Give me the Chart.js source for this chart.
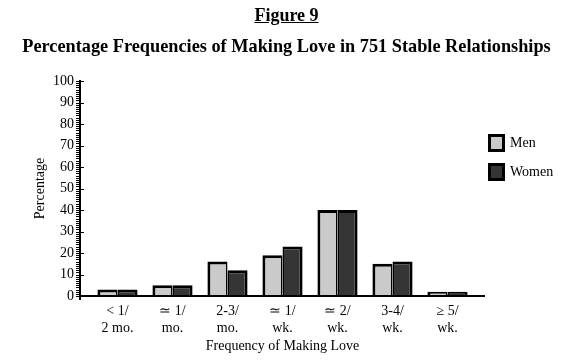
<!DOCTYPE html>
<html lang="en">
<head>
    <meta charset="UTF-8">
    <title>Figure 9</title>
    <style>
        body { margin: 0; background: #fff; font-family: "Liberation Serif", serif; color: #000; }
        .wrap { position: relative; width: 573px; height: 361px; overflow: hidden; }
        canvas { position: absolute; left: 0; top: 0; }
        .fig { position: absolute; left: 0; width: 573px; top: 5px; text-align: center; font-size: 18px; font-weight: bold; }
        .fig span { text-decoration: underline; }
        .sub { position: absolute; left: 0; width: 573px; top: 36px; text-align: center; font-size: 18.3px; font-weight: bold; }
        .legend { position: absolute; left: 488px; top: 134px; font-size: 14px; }
        .legend div { display: flex; align-items: center; height: 17px; margin-bottom: 12px; }
        .legend i { display: inline-block; width: 11px; height: 12px; border: 3px solid #000; margin-right: 5px; }
    </style>
</head>
<body>
<div class="wrap">
    <canvas id="chart" width="573" height="361"></canvas>
    <div class="fig"><span>Figure 9</span></div>
    <div class="sub">Percentage Frequencies of Making Love in 751 Stable Relationships</div>
    <div class="legend" id="legend"></div>
</div>

<script src="https://cdn.jsdelivr.net/npm/chart.js"></script>
<script>
    // data
    const categories = [
        ['< 1/', '2 mo.'],
        ['\u2243 1/', 'mo.'],
        ['2-3/', 'mo.'],
        ['\u2243 1/', 'wk.'],
        ['\u2243 2/', 'wk.'],
        ['3-4/', 'wk.'],
        ['\u2265 5/', 'wk.']
    ];
    const men = [3, 5, 16, 19, 40, 15, 2];
    const women = [3, 5, 12, 23, 40, 16, 2];
    const seriesNames = ['Men', 'Women'];
    const seriesColors = ['#cacaca', '#353535'];

    // legend
    const legendEl = document.getElementById('legend');
    seriesNames.forEach((name, i) => {
        const row = document.createElement('div');
        row.innerHTML = '<i style="background:' + seriesColors[i] + '"></i>' + name;
        legendEl.appendChild(row);
    });

    // axes drawn by hand: line offset from the bars, minor ticks every unit
    const axesPlugin = {
        id: 'axes',
        afterDatasetsDraw(chart) {
            const { ctx, chartArea, scales: { y } } = chart;
            const ax = chartArea.left - 10;
            const y0 = y.getPixelForValue(0);
            ctx.save();
            ctx.strokeStyle = '#000';
            ctx.lineWidth = 2;
            ctx.beginPath();
            ctx.moveTo(ax, y.getPixelForValue(100) - 1);
            ctx.lineTo(ax, y0 + 4);
            ctx.moveTo(ax - 1, y0);
            ctx.lineTo(chartArea.right + 10, y0);
            ctx.stroke();
            ctx.lineWidth = 1;
            ctx.beginPath();
            for (let v = 0; v <= 100; v++) {
                const py = Math.round(y.getPixelForValue(v)) + 0.5;
                if (v % 10 === 0) {
                    ctx.moveTo(ax - 4, py);
                    ctx.lineTo(ax + 4, py);
                } else {
                    ctx.moveTo(ax - 4, py);
                    ctx.lineTo(ax, py);
                }
            }
            ctx.stroke();
            ctx.restore();
        }
    };

    const serif = '"Liberation Serif", serif';

    new Chart(document.getElementById('chart'), {
        type: 'bar',
        data: {
            labels: categories,
            datasets: [
                { label: seriesNames[0], data: men, backgroundColor: seriesColors[0], borderColor: '#000',
                  borderWidth: { left: 3, right: 1.5, top: 3, bottom: 0 } },
                { label: seriesNames[1], data: women, backgroundColor: seriesColors[1], borderColor: '#000',
                  borderWidth: { left: 1.5, right: 3, top: 3, bottom: 0 } }
            ]
        },
        options: {
            responsive: false,
            animation: false,
            layout: { padding: { top: 81, right: 98, left: 0, bottom: 0 } },
            datasets: { bar: { barPercentage: 1, categoryPercentage: 0.73 } },
            plugins: { legend: { display: false }, tooltip: { enabled: false } },
            scales: {
                x: {
                    grid: { display: false, drawTicks: false },
                    border: { display: false },
                    afterFit: s => { s.height = 65; },
                    ticks: { color: '#000', padding: 7, maxRotation: 0, autoSkip: false, font: { family: serif, size: 14, lineHeight: 1.2 } },
                    title: { display: true, text: 'Frequency of Making Love', color: '#000', padding: { top: 0, bottom: 6 }, font: { family: serif, size: 14 } }
                },
                y: {
                    min: 0,
                    max: 100,
                    grid: { display: false, drawTicks: false },
                    border: { display: false },
                    afterFit: s => { s.width = 90; },
                    ticks: { stepSize: 10, color: '#000', padding: 16, font: { family: serif, size: 14 } },
                    title: { display: true, text: 'Percentage', color: '#000', padding: { top: 32, bottom: 0 }, font: { family: serif, size: 14 } }
                }
            }
        },
        plugins: [axesPlugin]
    });
</script>
</body>
</html>
